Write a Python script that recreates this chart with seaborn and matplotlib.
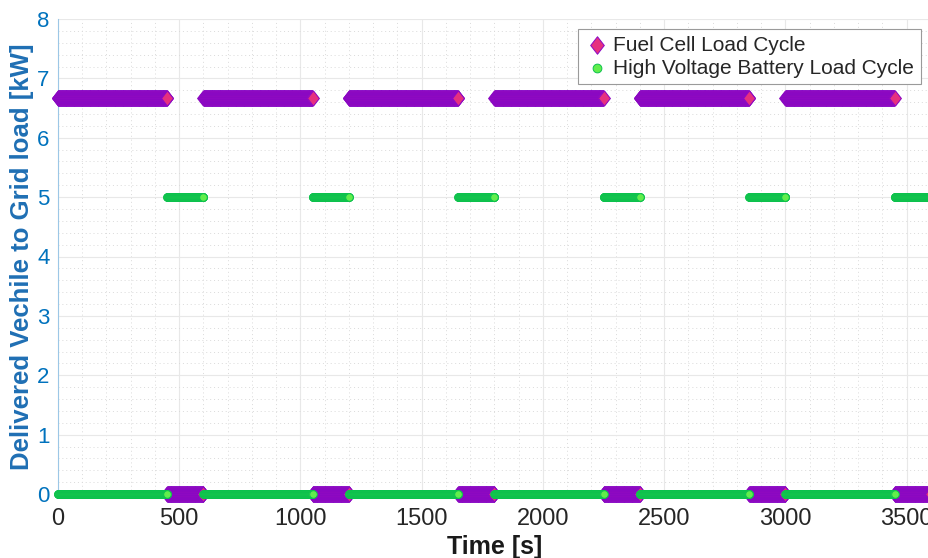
import numpy as np
import pandas as pd
import matplotlib
matplotlib.use("Agg")
import matplotlib.pyplot as plt
from matplotlib.path import Path
from matplotlib.markers import MarkerStyle
from matplotlib.ticker import MultipleLocator
import seaborn as sns

# Load schedule: each segment holds a constant load from its start to its end time [s]
seg_start = [0, 450, 600, 1050, 1200, 1650, 1800, 2250, 2400, 2850, 3000, 3450]
seg_end = [450, 600, 1050, 1200, 1650, 1800, 2250, 2400, 2850, 3000, 3450, 3600]
fuel_cell_kw = [6.67, 0, 6.67, 0, 6.67, 0, 6.67, 0, 6.67, 0, 6.67, 0]
battery_kw = [0, 5, 0, 5, 0, 5, 0, 5, 0, 5, 0, 5]
sample_step = 1  # logging interval [s]

x_ticks = [0, 500, 1000, 1500, 2000, 2500, 3000, 3500]
y_ticks = [0, 1, 2, 3, 4, 5, 6, 7, 8]

series_names = ["Fuel Cell Load Cycle", "High Voltage Battery Load Cycle"]


def sampled(levels, name):
    rows = []
    for s, e, v in zip(seg_start, seg_end, levels):
        t = np.arange(s, e + sample_step, sample_step)
        rows.append(pd.DataFrame({"time": t, "load": np.full(t.shape, v, dtype=float),
                                  "series": name}))
    return pd.concat(rows, ignore_index=True)


fc = sampled(fuel_cell_kw, series_names[0])
hv = sampled(battery_kw, series_names[1])

sns.set_style("white")
plt.rcParams["font.family"] = ["Liberation Sans", "DejaVu Sans"]

fig = plt.figure(figsize=(9.29, 5.58), dpi=100)
ax = fig.add_axes([58 / 929, 64 / 558, 873 / 929, 475 / 558])

# diamond a bit narrower than it is tall
diamond = MarkerStyle(Path([(0, 1), (0.78, 0), (0, -1), (-0.78, 0), (0, 1)],
                           [Path.MOVETO, Path.LINETO, Path.LINETO, Path.LINETO, Path.CLOSEPOLY]))

purple = "#8A08C6"
magenta = "#E6307F"
green_edge = "#0CC14E"
green_face = "#62EE4C"

sns.scatterplot(data=fc, x="time", y="load", marker=diamond, s=120, color=magenta,
                edgecolor=purple, linewidth=0.7, label=series_names[0], ax=ax,
                clip_on=False, zorder=3)
sns.scatterplot(data=hv, x="time", y="load", marker="o", s=30, color=green_face,
                edgecolor=green_edge, linewidth=0.7, label=series_names[1], ax=ax,
                clip_on=False, zorder=4)

ax.set_xlim(0, 3600)
ax.set_ylim(0, 8)
ax.set_xticks(x_ticks)
ax.set_yticks(y_ticks)
ax.xaxis.set_minor_locator(MultipleLocator(100))
ax.yaxis.set_minor_locator(MultipleLocator(0.2))

ax.grid(which="major", color="#e8e8e8", linewidth=0.8, linestyle="-")
ax.grid(which="minor", color="#dadada", linewidth=0.7, linestyle=(0, (1, 3)))
ax.set_axisbelow(True)

for side in ("top", "right"):
    ax.spines[side].set_visible(False)
ax.spines["left"].set_color("#9cc7e6")
ax.spines["bottom"].set_color("#c8c8c8")

ax.tick_params(axis="y", which="major", direction="in", length=7, color="#9cc7e6",
               labelcolor="#0072BD", labelsize=16, pad=6)
ax.tick_params(axis="x", which="major", direction="in", length=7, color="#b0b0b0",
               labelcolor="#262626", labelsize=17, pad=10)
ax.tick_params(which="minor", length=0)

ax.set_xlabel("Time [s]", fontsize=18, fontweight="bold", color="#1a1a1a", labelpad=4)
ax.set_ylabel("Delivered Vechile to Grid load [kW]", fontsize=18.5, fontweight="bold",
              color="#1f6fb4", labelpad=2)

leg = ax.legend(loc="upper right", fontsize=15, scatterpoints=1, fancybox=False,
                framealpha=1, edgecolor="#9a9a9a", borderpad=0.3, labelspacing=0.2,
                handletextpad=0.2, handlelength=1.2, borderaxespad=0.5, markerscale=1.15)
leg.get_frame().set_linewidth(0.8)

fig.savefig("out.png", dpi=100)
